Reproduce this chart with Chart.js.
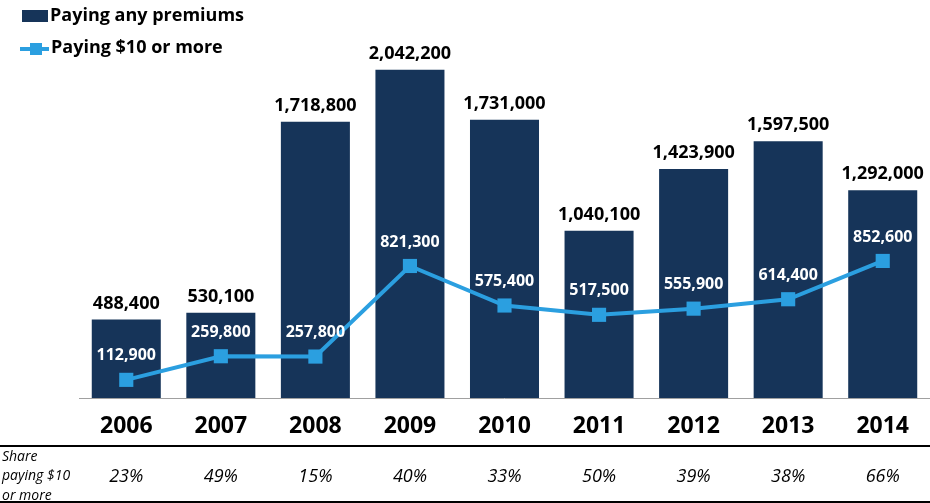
<!DOCTYPE html>
<html>
<head>
<meta charset="utf-8">
<script src="https://cdn.jsdelivr.net/npm/chart.js@4/dist/chart.umd.min.js"></script>
<style>
  html, body { margin: 0; padding: 0; background: #fff; }
  #wrap { width: 930px; height: 503px; }
</style>
</head>
<body>
<div id="wrap"><canvas id="chart" width="930" height="503"></canvas></div>
<script>
const years = ['2006', '2007', '2008', '2009', '2010', '2011', '2012', '2013', '2014'];
const anyPremiums = [488400, 530100, 1718800, 2042200, 1731000, 1040100, 1423900, 1597500, 1292000];
const tenOrMore = [112900, 259800, 257800, 821300, 575400, 517500, 555900, 614400, 852600];
const shareTenOrMore = ['23%', '49%', '15%', '40%', '33%', '50%', '39%', '38%', '66%'];
const shareLabel = ['Share', 'paying $10', 'or more'];
const seriesNames = ['Paying any premiums', 'Paying $10 or more'];

const NAVY = '#163459';
const BLUE = '#2b9fe0';
const FONT = '"Open Sans", "Liberation Sans", sans-serif';

const fmt = v => v.toLocaleString('en-US');

// value labels, x labels, the share row and the legend
const extras = {
  id: 'extras',
  afterDatasetsDraw(c) {
    const ctx = c.ctx;
    const x = c.scales.x;
    const area = c.chartArea;
    ctx.save();

    // axis line
    ctx.strokeStyle = '#a0a0a0';
    ctx.lineWidth = 1;
    ctx.beginPath();
    ctx.moveTo(area.left, area.bottom + 0.5);
    ctx.lineTo(930, area.bottom + 0.5);
    ctx.stroke();

    ctx.textAlign = 'center';
    ctx.textBaseline = 'middle';

    // bar totals
    ctx.fillStyle = '#000';
    ctx.font = 'bold 18px ' + FONT;
    c.getDatasetMeta(0).data.forEach((bar, i) => {
      ctx.fillText(fmt(anyPremiums[i]), bar.x, bar.y - 16);
    });

    // line values
    ctx.fillStyle = '#fff';
    ctx.font = 'bold 16px ' + FONT;
    c.getDatasetMeta(1).data.forEach((pt, i) => {
      ctx.fillText(fmt(tenOrMore[i]), pt.x, pt.y - 24);
    });

    // year labels
    ctx.fillStyle = '#000';
    ctx.font = 'bold 23px ' + FONT;
    years.forEach((y, i) => ctx.fillText(y, x.getPixelForValue(i), 426));

    // share row
    ctx.strokeStyle = '#000';
    ctx.lineWidth = 2;
    [446, 502].forEach(yy => {
      ctx.beginPath();
      ctx.moveTo(0, yy);
      ctx.lineTo(930, yy);
      ctx.stroke();
    });
    ctx.font = 'italic 18px ' + FONT;
    shareTenOrMore.forEach((s, i) => ctx.fillText(s, x.getPixelForValue(i), 477));
    ctx.textAlign = 'left';
    ctx.font = 'italic 14px ' + FONT;
    shareLabel.forEach((s, i) => ctx.fillText(s, 2, 457 + i * 19.5));

    // legend
    ctx.fillStyle = NAVY;
    ctx.fillRect(22, 10, 26, 12);
    ctx.strokeStyle = BLUE;
    ctx.lineWidth = 4;
    ctx.beginPath();
    ctx.moveTo(20, 49);
    ctx.lineTo(49, 49);
    ctx.stroke();
    ctx.fillStyle = BLUE;
    ctx.fillRect(30, 43, 12, 12);
    ctx.fillStyle = '#000';
    ctx.font = 'bold 18px ' + FONT;
    ctx.fillText(seriesNames[0], 50, 16);
    ctx.fillText(seriesNames[1], 51, 48);

    ctx.restore();
  }
};

new Chart(document.getElementById('chart'), {
  data: {
    labels: years,
    datasets: [
      {
        type: 'bar',
        label: seriesNames[0],
        data: anyPremiums,
        backgroundColor: NAVY,
        categoryPercentage: 1,
        barPercentage: 0.73,
        order: 1
      },
      {
        type: 'line',
        label: seriesNames[1],
        data: tenOrMore,
        borderColor: BLUE,
        backgroundColor: BLUE,
        borderWidth: 4,
        tension: 0,
        pointStyle: 'rect',
        pointRadius: 10,
        pointBorderWidth: 0,
        order: 0
      }
    ]
  },
  options: {
    responsive: false,
    animation: false,
    layout: { autoPadding: false, padding: { left: 79, right: 0, top: 0, bottom: 105 } },
    scales: {
      x: { display: false, offset: true },
      y: { display: false, min: 0, max: 2476000 }
    },
    plugins: {
      legend: { display: false },
      tooltip: { enabled: false }
    }
  },
  plugins: [extras]
});
</script>
</body>
</html>
